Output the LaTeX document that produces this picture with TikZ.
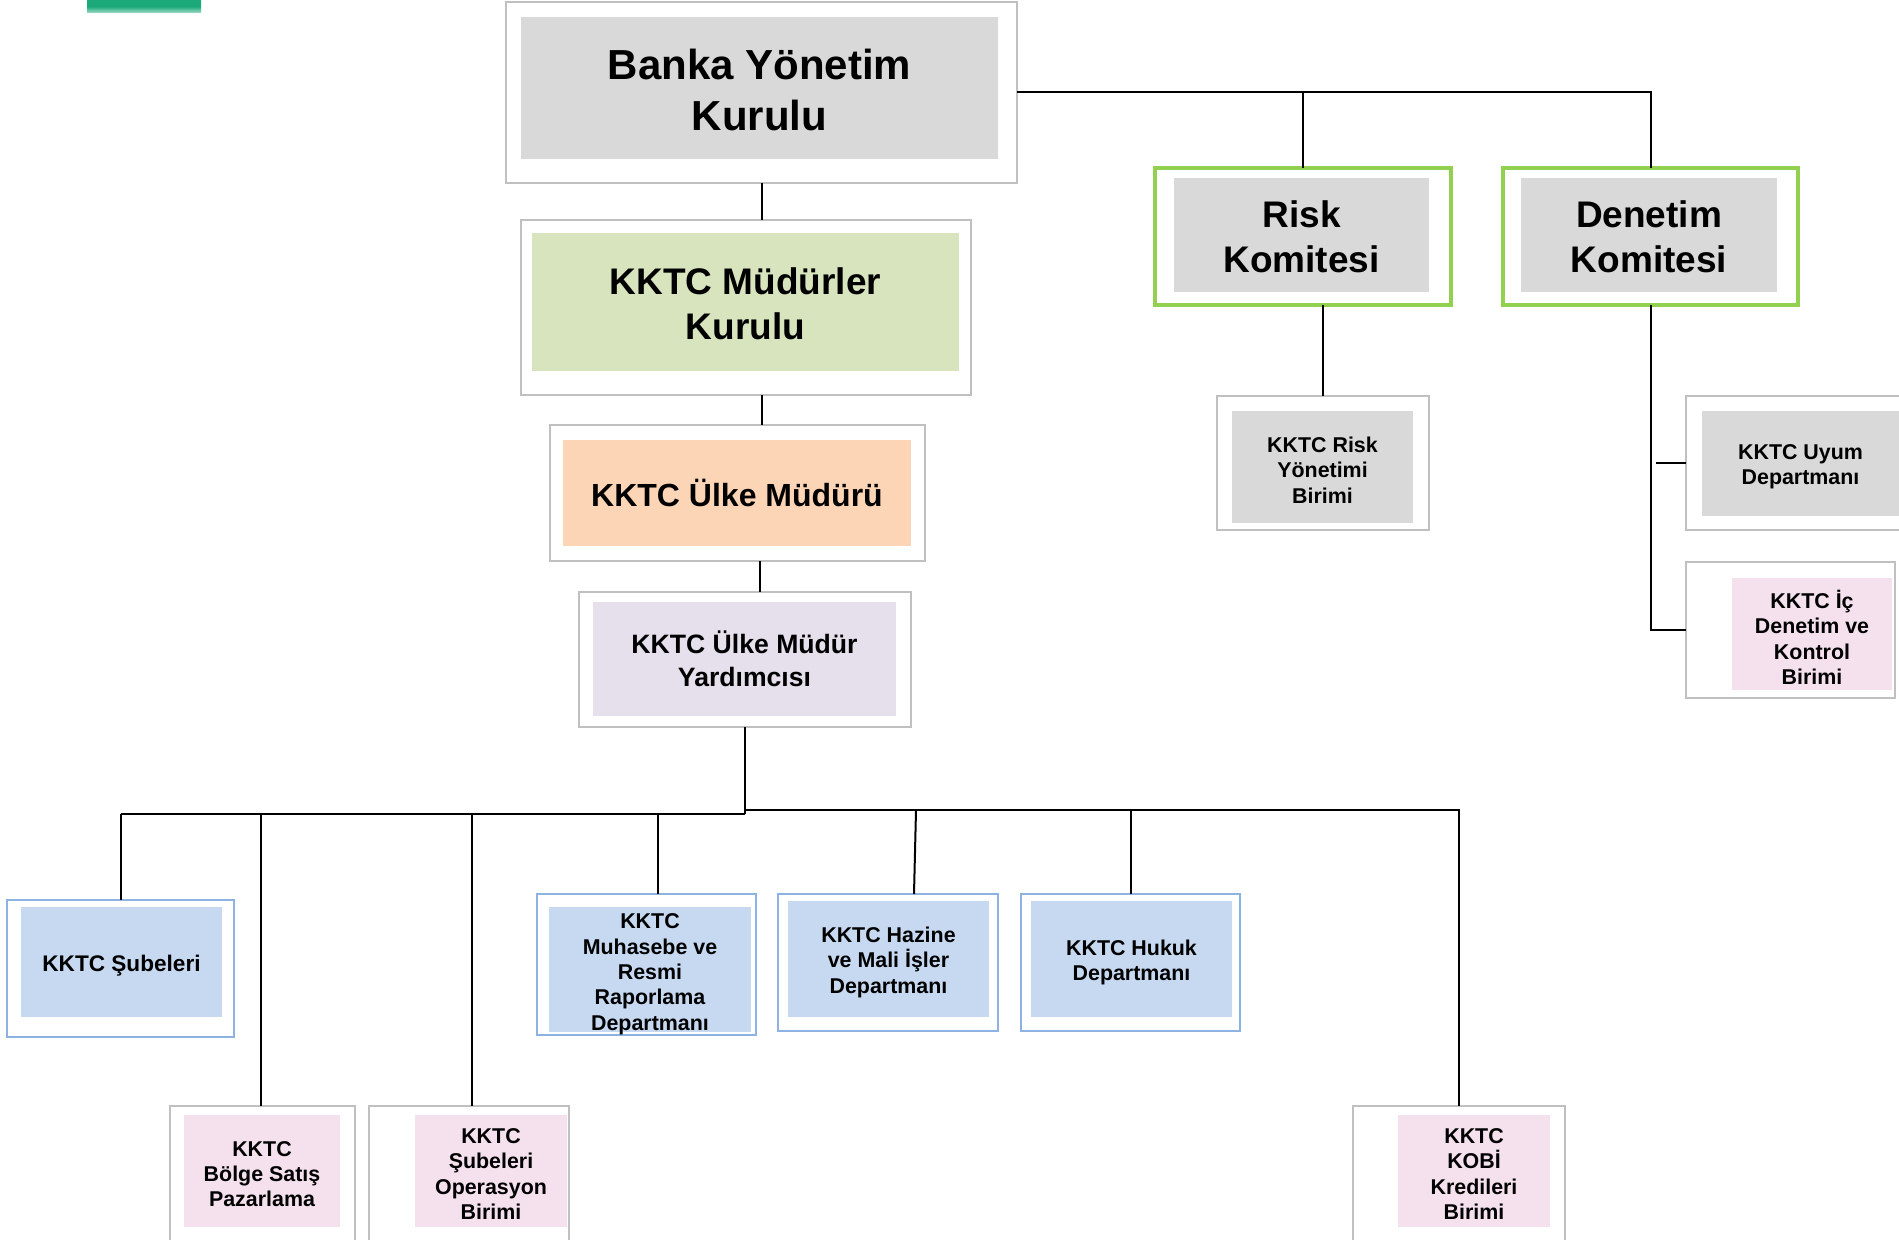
\documentclass[tikz,border=0pt]{standalone}
\usepackage{fontspec}
\setmainfont{Liberation Sans}
\definecolor{boxgray}{RGB}{192,192,192}
\definecolor{ingray}{HTML}{D9D9D9}
\definecolor{ingreen}{HTML}{D7E4BD}
\definecolor{inpeach}{HTML}{FBD5B5}
\definecolor{inlav}{HTML}{E5E0EC}
\definecolor{inblue}{HTML}{C6D9F1}
\definecolor{blueborder}{HTML}{8DB3E2}
\definecolor{inpink}{HTML}{F4E1ED}
\definecolor{komgreen}{HTML}{92D050}
\definecolor{topgreen}{HTML}{1BA97A}
\newcommand\bx[6]{\node[#6, minimum width={(#4-#2)*0.5pt}, minimum height={(#5-#3)*0.5pt}] (#1) at ({(#2+#4)/2},{(#3+#5)/2}) {};}
\begin{document}
\begin{tikzpicture}[x=0.5pt,y=-0.5pt,
  base/.style={inner sep=0pt, outer sep=0pt, rectangle},
  outg/.style={base, draw=boxgray, line width=0.75pt, fill=white},
  outb/.style={base, draw=blueborder, line width=0.75pt, fill=white},
  komite/.style={base, draw=komgreen, line width=2pt, fill=white},
  inn/.style={base, draw=none, fill=#1},
  conn/.style={line width=1pt, black},
  big/.style={align=center, yshift=-0.8pt, font=\fontsize{21}{25.5}\selectfont\bfseries},
  kom/.style={align=center, yshift=-1pt, font=\fontsize{18.5}{22.5}\selectfont\bfseries},
  mid/.style={align=center, font=\fontsize{16}{19}\selectfont\bfseries},
  yrd/.style={align=center, font=\fontsize{13.3}{16.5}\selectfont\bfseries},
  sml/.style={align=center, yshift=-1.6pt, font=\fontsize{10.7}{12.7}\selectfont\bfseries}]
\useasboundingbox (0,0) rectangle (1899,1240);
\clip (0,0) rectangle (1899,1240);
\fill[white] (0,0) rectangle (1899,1240);
% top-left green mark
\shade[top color=topgreen, bottom color=topgreen!40!white, middle color=topgreen] (87,0) rectangle (201,13);
% central column
\bx{banka}{506}{2}{1017}{183}{outg}
\bx{banka-i}{521}{17}{998}{159}{inn=ingray}
\node[big] (banka-t) at (banka-i) {Banka Yönetim\\Kurulu};
\bx{mkurul}{521}{220}{971}{395}{outg}
\bx{mkurul-i}{532}{233}{959}{371}{inn=ingreen}
\node[kom] (mkurul-t) at (mkurul-i) {KKTC Müdürler\\Kurulu};
\bx{ulke}{550}{425}{925}{561}{outg}
\bx{ulke-i}{563}{440}{911}{546}{inn=inpeach}
\node[mid] (ulke-t) at (ulke-i) {KKTC Ülke Müdürü};
\bx{yard}{579}{592}{911}{727}{outg}
\bx{yard-i}{593}{602}{896}{716}{inn=inlav}
\node[yrd] (yard-t) at (yard-i) {KKTC Ülke Müdür\\Yardımcısı};
% committees
\bx{risk}{1155}{168}{1451}{305}{komite}
\bx{risk-i}{1174}{178}{1429}{292}{inn=ingray}
\node[kom] (risk-t) at (risk-i) {Risk\\Komitesi};
\bx{denetim}{1503}{168}{1798}{305}{komite}
\bx{denetim-i}{1521}{178}{1777}{292}{inn=ingray}
\node[kom] (denetim-t) at (denetim-i) {Denetim\\Komitesi};
\bx{rb}{1217}{396}{1429}{530}{outg}
\bx{rb-i}{1232}{411}{1413}{523}{inn=ingray}
\node[sml] (rb-t) at (rb-i) {KKTC Risk\\Yönetimi\\Birimi};
\bx{uyum}{1686}{396}{1920}{530}{outg}
\bx{uyum-i}{1702}{411}{1899}{516}{inn=ingray}
\node[sml] (uyum-t) at (uyum-i) {KKTC Uyum\\Departmanı};
\bx{ic}{1686}{562}{1895}{698}{outg}
\bx{ic-i}{1732}{578}{1892}{690}{inn=inpink}
\node[sml] (ic-t) at (ic-i) {KKTC İç\\Denetim ve\\Kontrol\\Birimi};
% bottom row 1
\bx{sube}{7}{900}{234}{1037}{outb}
\bx{sube-i}{21}{907}{222}{1017}{inn=inblue}
\node[align=center, yshift=-2pt, font=\fontsize{11.3}{13.5}\selectfont\bfseries] (sube-t) at (sube-i) {KKTC Şubeleri};
\bx{muh}{537}{894}{756}{1035}{outb}
\bx{muh-i}{549}{907}{751}{1032}{inn=inblue}
\node[sml] (muh-t) at ([yshift=-0.8pt]muh-i) {KKTC\\Muhasebe ve\\Resmi\\Raporlama\\Departmanı};
\bx{haz}{778}{894}{998}{1031}{outb}
\bx{haz-i}{788}{901}{989}{1017}{inn=inblue}
\node[sml] (haz-t) at (haz-i) {KKTC Hazine\\ve Mali İşler\\Departmanı};
\bx{huk}{1021}{894}{1240}{1031}{outb}
\bx{huk-i}{1031}{901}{1232}{1017}{inn=inblue}
\node[sml] (huk-t) at (huk-i) {KKTC Hukuk\\Departmanı};
% bottom row 2
\bx{bolge}{170}{1106}{355}{1260}{outg}
\bx{bolge-i}{184}{1115}{340}{1227}{inn=inpink}
\node[sml] (bolge-t) at (bolge-i) {KKTC\\Bölge Satış\\Pazarlama};
\bx{oper}{369}{1106}{569}{1260}{outg}
\bx{oper-i}{415}{1115}{567}{1227}{inn=inpink}
\node[sml] (oper-t) at (oper-i) {KKTC\\Şubeleri\\Operasyon\\Birimi};
\bx{kobi}{1353}{1106}{1565}{1260}{outg}
\bx{kobi-i}{1398}{1115}{1550}{1227}{inn=inpink}
\node[sml] (kobi-t) at (kobi-i) {KKTC\\KOBİ\\Kredileri\\Birimi};
% connectors: central column
\draw[conn] (banka.south) -- (banka.south |- mkurul.north);
\draw[conn] (mkurul.south -| banka.south) -- (ulke.north -| banka.south);
\draw[conn] ([xshift=-1pt]ulke.south -| banka.south) -- ([xshift=-1pt]yard.north -| banka.south);
% committees
\draw[conn] (banka.east) -- (banka.east -| denetim.north) -- (denetim.north);
\draw[conn] (banka.east -| risk.north) -- (risk.north);
\draw[conn] (risk.south -| rb.north) -- (rb.north);
\draw[conn] (denetim.south) -- (denetim.south |- ic.west) -- (ic.west);
\draw[conn] ([xshift=2.5pt]denetim.south |- uyum.west) -- (uyum.west);
% bus
\coordinate (busL) at (745,814);
\coordinate (busR) at (745,810);
\draw[conn] (yard.south) -- (busL);
\draw[conn] (busL -| sube.north) -- (busL);
\draw[conn] (busR) -- (busR -| kobi.north) -- (kobi.north);
\draw[conn] (busL -| sube.north) -- (sube.north);
\draw[conn] ([xshift=-1pt]busL -| bolge.north) -- ([xshift=-1pt]bolge.north);
\draw[conn] ([xshift=1.5pt]busL -| oper.north) -- ([xshift=1.5pt]oper.north);
\draw[conn] ([xshift=5.75pt]busL -| muh.north) -- ([xshift=5.75pt]muh.north);
\draw[conn] ([xshift=14pt]busR -| haz.north) -- ([xshift=13pt]haz.north);
\draw[conn] (busR -| huk.north) -- (huk.north);
\end{tikzpicture}
\end{document}
